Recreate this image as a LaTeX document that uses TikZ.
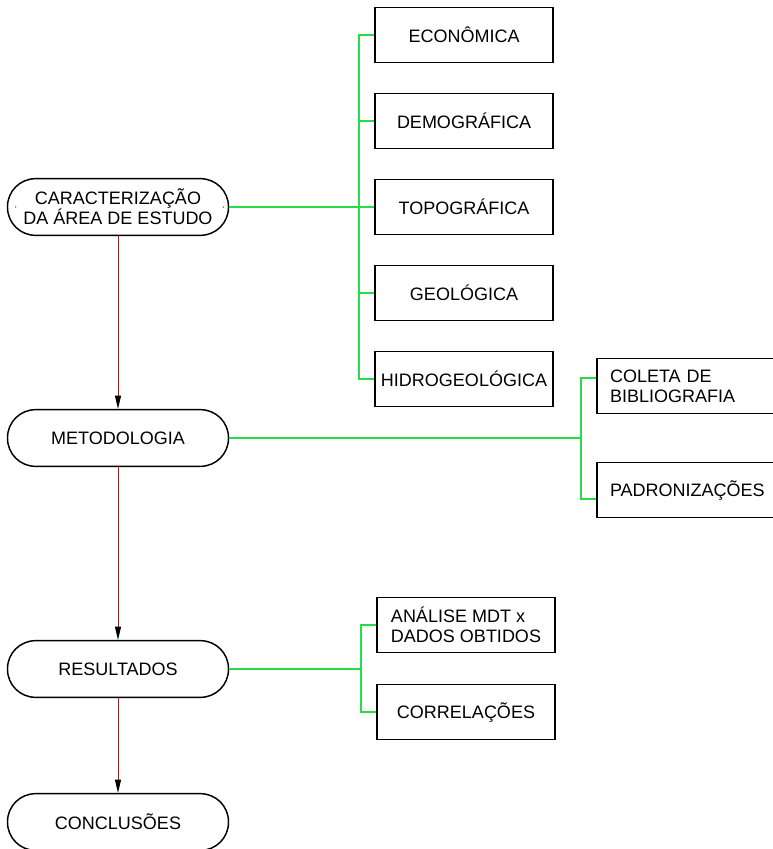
\documentclass[tikz,border=0pt]{standalone}
\usepackage{fontspec}
\setmainfont{Liberation Sans}
\usetikzlibrary{arrows.meta, positioning}
\definecolor{linegreen}{RGB}{40,220,70}
\definecolor{linered}{RGB}{235,0,0}
\tikzstyle{terminal}=[draw,line width=1.1pt,rectangle,rounded corners=21pt,minimum width=165.75pt,minimum height=42.5pt,align=center]
\tikzstyle{block}=[draw,line width=1.1pt,rectangle,minimum width=133.5pt,minimum height=41.25pt,align=left]
\tikzstyle{wideblock}=[block,minimum width=135pt,text width=115.5pt,inner xsep=9.75pt]
\tikzstyle{every node}=[font=\fontsize{13.5pt}{15pt}\selectfont]
\tikzstyle{flow}=[draw=linered,line width=0.75pt,-{Triangle[length=10pt,width=4.5pt,color=black]}]
\tikzstyle{branch}=[draw=linegreen,line width=1.5pt]

\begin{document}
\begin{tikzpicture}[x=0.75pt,y=-0.75pt]
    \useasboundingbox (0,0) rectangle (773,849);
    % main flow
    \node[terminal] (car) at (118,207) {CARACTERIZAÇÃO\\DA ÁREA DE ESTUDO};
    \node[terminal, below of=car, node distance=173.25pt] (met) {METODOLOGIA};
    \node[terminal, below of=met, node distance=173.25pt] (res) {RESULTADOS};
    \node[terminal, below of=res, node distance=114.75pt] (con) {CONCLUSÕES};
    \fill ([xshift=6.75pt]car.west) circle (0.5pt);
    \fill ([xshift=-4.5pt]car.east) circle (0.5pt);
    % area
    \node[block, right of=car, node distance=259.5pt] (topo) {TOPOGRÁFICA};
    \node[block, above of=topo, node distance=64.5pt] (dem) {DEMOGRÁFICA};
    \node[block, above of=dem, node distance=64.5pt] (eco) {ECONÔMICA};
    \node[block, below of=topo, node distance=64.5pt] (geo) {GEOLÓGICA};
    \node[block, below of=geo, node distance=64.5pt] (hid) {HIDROGEOLÓGICA};
    % metodologia
    \coordinate[right of=met, node distance=426.75pt] (metr);
    \node[wideblock, above of=metr, node distance=39pt] (col) {COLETA DE\\BIBLIOGRAFIA};
    \node[wideblock, below of=metr, node distance=39pt] (pad) {PADRONIZAÇÕES};
    % resultados
    \coordinate[right of=res, node distance=261pt] (resr);
    \node[block, above of=resr, node distance=33pt] (ana) {ANÁLISE MDT x\\DADOS OBTIDOS};
    \node[block, below of=resr, node distance=32.25pt] (cor) {CORRELAÇÕES};
    \coordinate[left=11.25pt of topo.west] (bus1);
    \coordinate[left=11.25pt of col.west] (bus2);
    \coordinate[left=11.25pt of ana.west] (bus3);
    \draw[flow] (car) -- (met);
    \draw[flow] (met) -- (res);
    \draw[flow] (res) -- (con);
    \draw[branch] (car) -- (topo);
    \draw[branch] (eco.west) -| (bus1) |- (hid.west);
    \draw[branch] (dem.west) -| (bus1);
    \draw[branch] (geo.west) -| (bus1);
    \draw[branch] (met) -- (met -| bus2);
    \draw[branch] ([yshift=6pt]col.west) -| (bus2) |- ([yshift=-6.75pt]pad.west);
    \draw[branch] (res) -- (res -| bus3);
    \draw[branch] (ana.west) -| (bus3) |- (cor.west);
\end{tikzpicture}
\end{document}
